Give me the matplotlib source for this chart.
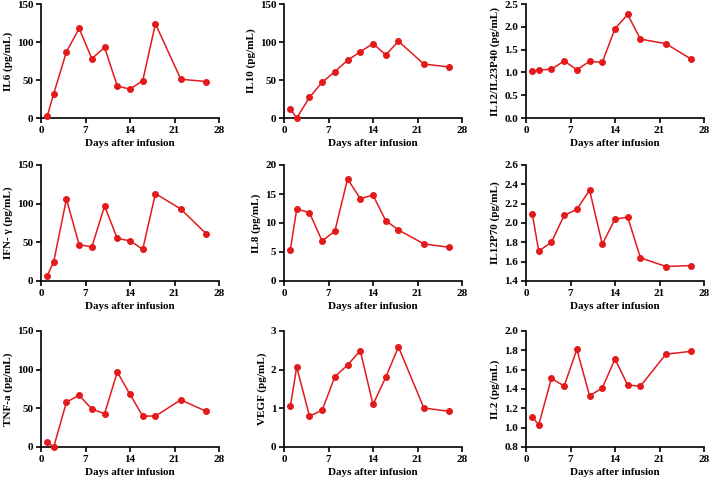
import matplotlib.pyplot as plt

plt.rcParams['font.family'] = ['Liberation Serif', 'DejaVu Serif']
plt.rcParams['font.weight'] = 'bold'

days = [1, 2, 4, 6, 8, 10, 12, 14, 16, 18, 22, 26]

il6 = [3, 32, 87, 118, 78, 93, 42, 38, 49, 124, 51, 48]
il10 = [12, 0, 27, 47, 61, 76, 87, 98, 83, 101, 71, 67]
il12_23p40 = [1.02, 1.05, 1.07, 1.25, 1.06, 1.24, 1.22, 1.96, 2.27, 1.73, 1.63, 1.29]
ifn_g = [7, 25, 106, 47, 44, 97, 55, 52, 41, 113, 93, 61]
il8 = [5.4, 12.4, 11.8, 6.9, 8.6, 17.6, 14.2, 14.8, 10.4, 8.8, 6.4, 5.8]
il12p70 = [2.09, 1.71, 1.80, 2.08, 2.14, 2.34, 1.78, 2.04, 2.06, 1.64, 1.55, 1.56]
tnf_a = [6, 0, 58, 67, 49, 43, 97, 68, 40, 40, 61, 46]
vegf = [1.05, 2.07, 0.80, 0.95, 1.82, 2.12, 2.49, 1.10, 1.80, 2.59, 1.01, 0.92]
il2 = [1.11, 1.03, 1.51, 1.43, 1.81, 1.33, 1.41, 1.71, 1.44, 1.43, 1.76, 1.79]

# (values, ylabel, yticks, tick format)
panels = [
    (il6, 'IL6 (pg/mL)', [0, 50, 100, 150], '{:.0f}'),
    (il10, 'IL10 (pg/mL)', [0, 50, 100, 150], '{:.0f}'),
    (il12_23p40, 'IL12/IL23P40 (pg/mL)', [0.0, 0.5, 1.0, 1.5, 2.0, 2.5], '{:.1f}'),
    (ifn_g, 'IFN- \u03b3 (pg/mL)', [0, 50, 100, 150], '{:.0f}'),
    (il8, 'IL8 (pg/mL)', [0, 5, 10, 15, 20], '{:.0f}'),
    (il12p70, 'IL12P70 (pg/mL)', [1.4, 1.6, 1.8, 2.0, 2.2, 2.4, 2.6], '{:.1f}'),
    (tnf_a, 'TNF-a (pg/mL)', [0, 50, 100, 150], '{:.0f}'),
    (vegf, 'VEGF (pg/mL)', [0, 1, 2, 3], '{:.0f}'),
    (il2, 'IL2 (pg/mL)', [0.8, 1.0, 1.2, 1.4, 1.6, 1.8, 2.0], '{:.1f}'),
]

W, H = 709, 478
lefts = [41, 284, 526]
tops = [4, 165, 331]
bottoms = [118, 281, 447]
aw = 178

fig = plt.figure(figsize=(W / 100, H / 100), dpi=100)

red = '#e31a1c'
for i, (vals, ylab, yt, fmt) in enumerate(panels):
    r, c = divmod(i, 3)
    ax = fig.add_axes([lefts[c] / W, 1 - bottoms[r] / H, aw / W, (bottoms[r] - tops[r]) / H])
    ax.plot(days, vals, color=red, lw=1.1, marker='o', ms=4, clip_on=False, zorder=3)
    ax.set_xlim(0, 28)
    ax.set_xticks([0, 7, 14, 21, 28])
    ax.set_ylim(yt[0], yt[-1])
    ax.set_yticks(yt)
    ax.set_yticklabels([fmt.format(v) for v in yt])
    for s in ['top', 'right']:
        ax.spines[s].set_visible(False)
    for s in ['left', 'bottom']:
        ax.spines[s].set_linewidth(1.2)
    ax.tick_params(direction='out', length=3.5, width=1.2, labelsize=8, pad=2)
    for lab in ax.get_xticklabels() + ax.get_yticklabels():
        lab.set_fontweight('bold')
    ax.set_ylabel(ylab, fontsize=8, fontweight='bold', labelpad=3)
    ax.set_xlabel('Days after infusion', fontsize=8, fontweight='bold', labelpad=3)

fig.savefig('out.png', dpi=100)
